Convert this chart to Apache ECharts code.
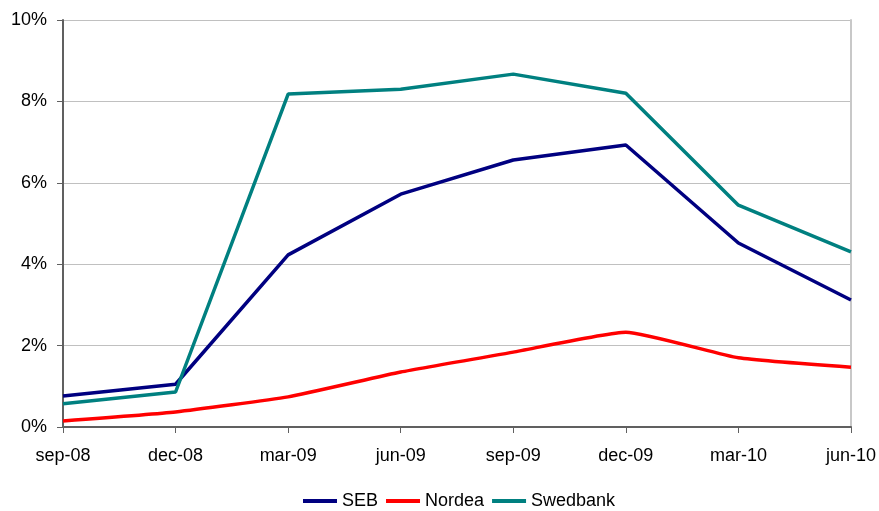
<!DOCTYPE html>
<html>
<head>
<meta charset="utf-8">
<script src="https://cdn.jsdelivr.net/npm/echarts@6/dist/echarts.min.js"></script>
<style>
  html, body { margin: 0; padding: 0; background: #fff; }
  #chart { width: 879px; height: 511px; }
</style>
</head>
<body>
<div id="chart"></div>
<script>
const categories = ['sep-08', 'dec-08', 'mar-09', 'jun-09', 'sep-09', 'dec-09', 'mar-10', 'jun-10'];
const seb = [0.76, 1.05, 4.23, 5.72, 6.56, 6.93, 4.52, 3.12];
const nordea = [0.15, 0.37, 0.74, 1.35, 1.84, 2.33, 1.70, 1.47];
const swedbank = [0.57, 0.86, 8.18, 8.30, 8.67, 8.20, 5.45, 4.30];

const font = 'Liberation Sans, Arial, sans-serif';
const chart = echarts.init(document.getElementById('chart'));

function lineSeries(name, data, color, smooth) {
  return {
    name, type: 'line', data, smooth,
    symbol: 'none',
    lineStyle: { color, width: 3.5 },
    itemStyle: { color },
    z: 3
  };
}

chart.setOption({
  animation: false,
  grid: { left: 63, right: 28, top: 20, bottom: 84 },
  legend: {
    top: 487,
    left: 298,
    itemWidth: 34,
    itemHeight: 4,
    itemGap: 8,
    icon: 'rect',
    textStyle: { fontFamily: font, fontSize: 18, color: '#000' },
    data: ['SEB', 'Nordea', 'Swedbank']
  },
  xAxis: {
    type: 'category',
    data: categories,
    boundaryGap: false,
    axisLine: { lineStyle: { color: '#606060', width: 2 } },
    axisTick: { show: true, length: 6, lineStyle: { color: '#606060', width: 1 } },
    axisLabel: { fontFamily: font, fontSize: 18, color: '#000', margin: 20 },
    splitLine: { show: false }
  },
  yAxis: [{
    type: 'value',
    min: 0, max: 10, interval: 2,
    axisLine: { show: true, lineStyle: { color: '#606060', width: 2 } },
    axisTick: { show: true, length: 6, lineStyle: { color: '#606060' } },
    axisLabel: { fontFamily: font, fontSize: 18, color: '#000', margin: 16, formatter: '{value}%' },
    splitLine: { lineStyle: { color: '#c0c0c0', width: 1 } }
  }, {
    type: 'value',
    position: 'right',
    min: 0, max: 10, interval: 2,
    axisLine: { show: true, lineStyle: { color: '#c8c8c8', width: 2 } },
    axisTick: { show: false },
    axisLabel: { show: false },
    splitLine: { show: false }
  }],
  series: [
    lineSeries('SEB', seb, '#000080', false),
    lineSeries('Nordea', nordea, '#ff0000', 0.15),
    lineSeries('Swedbank', swedbank, '#008080', false)
  ]
});
</script>
</body>
</html>
